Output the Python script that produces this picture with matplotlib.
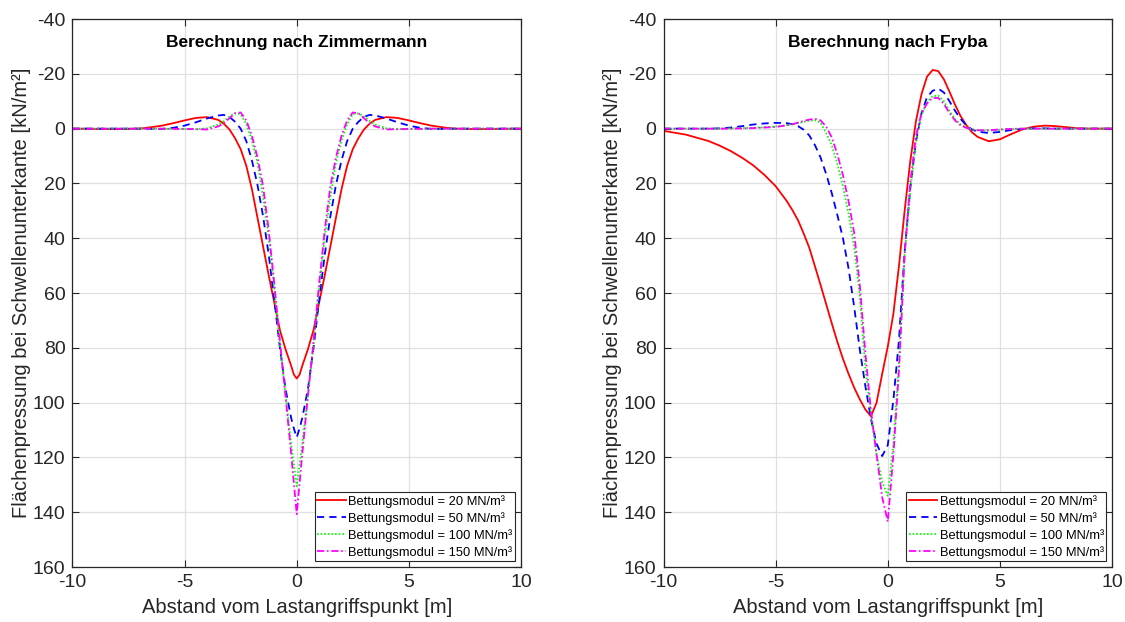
import numpy as np
import matplotlib
matplotlib.use("Agg")
import matplotlib.pyplot as plt

plt.rcParams['font.family'] = ['Liberation Sans', 'DejaVu Sans']
plt.rcParams['axes.unicode_minus'] = False

# ---------------- data: Zimmermann ----------------
x_zim = [-10, -9, -8, -7, -6.5, -6, -5.5, -5, -4.5, -4, -3.5, -3.25, -3, -2.75, -2.5,
         -2.25, -2, -1.75, -1.5, -1.25, -1, -0.75, -0.5, -0.25, -0.125, 0,
         0.125, 0.25, 0.5, 0.75, 1, 1.25, 1.5, 1.75, 2, 2.25, 2.5, 2.75, 3, 3.25, 3.5,
         4, 4.5, 5, 5.5, 6, 6.5, 7, 8, 9, 10]

zim_k20 = [0.0, 0.1, 0.2, 0.0, -0.5, -1.1, -2.0, -3.0, -3.9, -4.2, -3.2, -1.8, 0.3, 3.5, 7.5,
           13.5, 22.0, 32.5, 43.0, 53.5, 63.5, 73.5, 80.5, 86.5, 89.8, 91.2,
           89.8, 86.5, 80.5, 73.5, 63.5, 53.5, 43.0, 32.5, 22.0, 13.5, 7.5, 3.5, 0.3, -1.8, -3.2,
           -4.2, -3.9, -3.0, -2.0, -1.1, -0.5, 0.0, 0.2, 0.1, 0.0]

zim_k50 = [0.0, 0.0, 0.0, 0.0, 0.1, 0.1, -0.3, -1.1, -2.3, -3.7, -4.8, -5.0, -4.3, -2.5, 0.0,
           4.5, 11.5, 20.5, 32.0, 46.0, 62.5, 80.0, 95.0, 105.5, 109.5, 112.7,
           109.5, 105.5, 95.0, 80.0, 62.5, 46.0, 32.0, 20.5, 11.5, 4.5, 0.0, -2.5, -4.3, -5.0, -4.8,
           -3.7, -2.3, -1.1, -0.3, 0.1, 0.1, 0.0, 0.0, 0.0, 0.0]

zim_k100 = [0.0, 0.0, 0.0, 0.0, 0.0, 0.0, 0.1, 0.1, 0.2, -0.1, -1.5, -2.8, -4.4, -5.6, -5.3,
            -1.6, 4.3, 12.5, 25.0, 39.5, 58.5, 79.0, 97.0, 115.0, 122.8, 130.5,
            122.8, 115.0, 97.0, 79.0, 58.5, 39.5, 25.0, 12.5, 4.3, -1.6, -5.3, -5.6, -4.4, -2.8, -1.5,
            -0.1, 0.2, 0.1, 0.1, 0.0, 0.0, 0.0, 0.0, 0.0, 0.0]

zim_k150 = [0.0, 0.0, 0.0, 0.0, 0.0, 0.0, 0.1, 0.1, 0.2, 0.3, -0.8, -2.0, -3.8, -5.6, -5.9,
            -3.0, 2.5, 10.5, 21.0, 37.0, 56.5, 77.5, 97.5, 118.5, 129.6, 140.7,
            129.6, 118.5, 97.5, 77.5, 56.5, 37.0, 21.0, 10.5, 2.5, -3.0, -5.9, -5.6, -3.8, -2.0, -0.8,
            0.3, 0.2, 0.1, 0.1, 0.0, 0.0, 0.0, 0.0, 0.0, 0.0]

# ---------------- data: Fryba ----------------
x_fry = [-10, -9, -8, -7.5, -7, -6.5, -6, -5.5, -5, -4.5, -4.25, -4, -3.75, -3.5, -3.25,
         -3, -2.75, -2.5, -2.25, -2, -1.75, -1.5, -1.25, -1, -0.75, -0.5, -0.25, 0,
         0.25, 0.5, 0.75, 1, 1.25, 1.5, 1.75, 2, 2.25, 2.5, 2.75, 3, 3.25, 3.5, 3.75,
         4, 4.5, 5, 5.5, 6, 6.5, 7, 7.5, 8, 8.5, 9, 10]

fry_k20 = [0.8, 2.2, 4.5, 6.2, 8.2, 10.6, 13.4, 16.9, 21.0, 26.5, 29.8, 33.5, 38.3, 43.5, 50.2,
           57.0, 64.0, 71.0, 77.8, 84.0, 89.5, 94.5, 98.8, 102.5, 105.0, 100.0, 89.5, 79.5,
           67.5, 50.0, 30.0, 12.0, -2.5, -12.5, -19.0, -21.4, -21.0, -18.0, -13.5, -8.7, -4.5, -1.3, 1.3,
           3.0, 4.6, 3.9, 2.0, 0.3, -0.7, -1.1, -0.9, -0.5, -0.1, 0.0, 0.0]

fry_k50 = [0.0, 0.0, 0.0, -0.1, -0.4, -0.9, -1.5, -1.9, -2.1, -2.0, -1.6, -0.9, 0.4, 2.5, 6.0,
           10.5, 16.5, 23.5, 31.5, 40.0, 51.0, 65.0, 80.5, 94.0, 106.0, 115.0, 119.5, 115.5,
           99.0, 77.0, 45.0, 22.0, 5.0, -5.5, -11.5, -13.8, -14.6, -13.2, -10.0, -6.5, -3.5, -1.2, 0.3,
           1.1, 1.6, 1.2, 0.5, 0.1, -0.1, -0.1, 0.0, 0.0, 0.0, 0.0, 0.0]

fry_k100 = [0.0, 0.0, 0.0, 0.0, -0.1, -0.2, -0.3, -0.5, -0.8, -1.3, -1.6, -2.0, -2.5, -2.9, -3.1,
            -2.2, 1.5, 6.0, 12.8, 21.0, 31.0, 43.0, 61.0, 88.0, 104.0, 119.0, 129.0, 134.0,
            115.0, 85.0, 46.0, 23.0, 4.5, -5.0, -9.8, -11.8, -12.1, -10.0, -6.5, -3.5, -1.5, -0.4, 0.3,
            0.6, 0.7, 0.4, 0.1, 0.0, 0.0, 0.0, 0.0, 0.0, 0.0, 0.0, 0.0]

fry_k150 = [0.0, 0.0, 0.0, 0.0, 0.0, -0.1, -0.2, -0.4, -0.6, -1.2, -1.6, -2.2, -2.8, -3.3, -3.6,
            -3.0, -0.8, 3.2, 9.3, 17.0, 26.5, 38.0, 57.0, 82.0, 103.0, 119.0, 134.5, 143.5,
            119.0, 88.0, 46.0, 20.0, 3.0, -5.5, -9.2, -11.2, -11.2, -9.0, -5.7, -3.0, -1.2, -0.3, 0.3,
            0.6, 0.6, 0.3, 0.1, 0.0, 0.0, 0.0, 0.0, 0.0, 0.0, 0.0, 0.0]

labels = ['Bettungsmodul = 20 MN/m³', 'Bettungsmodul = 50 MN/m³',
          'Bettungsmodul = 100 MN/m³', 'Bettungsmodul = 150 MN/m³']
titles = ['Berechnung nach Zimmermann', 'Berechnung nach Fryba']
xlabel = 'Abstand vom Lastangriffspunkt [m]'
ylabel = 'Flächenpressung bei Schwellenunterkante [kN/m²]'
xticks = [-10, -5, 0, 5, 10]
yticks = [-40, -20, 0, 20, 40, 60, 80, 100, 120, 140, 160]

# ---------------- styles ----------------
styles = [
    dict(color=(1, 0, 0), linestyle='-'),
    dict(color=(0, 0, 1), linestyle=(0, (4, 2.8))),
    dict(color=(0, 1, 0), linestyle=(0, (0.9, 1.1))),
    dict(color=(1, 0, 1), linestyle=(0, (4, 1.5, 0.9, 1.5))),
]
dark = (0.15, 0.15, 0.15)

fig = plt.figure(figsize=(11.25, 6.22), dpi=100)
axes = [fig.add_axes([0.0644, 0.0884, 0.3987, 0.8810]),
        fig.add_axes([0.5898, 0.0884, 0.3987, 0.8810])]

datasets = [(x_zim, [zim_k20, zim_k50, zim_k100, zim_k150]),
            (x_fry, [fry_k20, fry_k50, fry_k100, fry_k150])]

for ax, (xs, series), title in zip(axes, datasets, titles):
    for ys, st, lab in zip(series, styles, labels):
        ax.plot(xs, ys, linewidth=1.3, label=lab, **st)
    ax.set_xlim(-10, 10)
    ax.set_ylim(160, -40)
    ax.set_xticks(xticks)
    ax.set_yticks(yticks)
    ax.grid(True, color=(0.88, 0.88, 0.88), linewidth=0.9)
    ax.set_axisbelow(True)
    ax.tick_params(direction='in', length=5, width=0.8, colors=dark, labelsize=14,
                   top=True, right=True, pad=5)
    for sp in ax.spines.values():
        sp.set_color(dark)
        sp.set_linewidth(0.9)
    ax.set_xlabel(xlabel, fontsize=14.5, color=dark, labelpad=5)
    ax.set_ylabel(ylabel, fontsize=14.5, color=dark, labelpad=1)
    ax.text(0.5, 0.958, title, transform=ax.transAxes, ha='center', va='center',
            fontsize=12.5, fontweight='bold', color='black')
    leg = ax.legend(loc='lower right', fontsize=9.3, frameon=True, fancybox=False,
                    edgecolor=dark, framealpha=1, handlelength=2.2, handletextpad=0.2,
                    labelspacing=0.32, borderpad=0.2, borderaxespad=0.45)
    leg.get_frame().set_linewidth(0.8)

fig.savefig('out.png', dpi=100)
